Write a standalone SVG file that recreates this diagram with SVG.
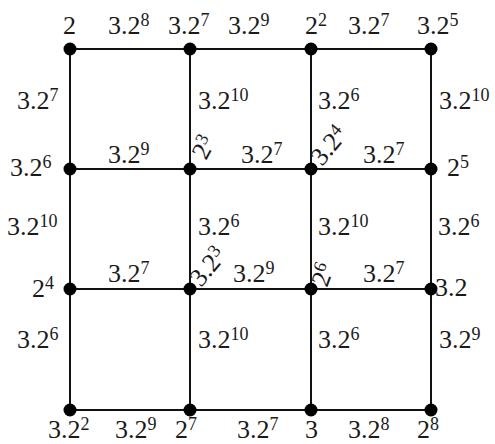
<svg xmlns="http://www.w3.org/2000/svg" width="495" height="444" viewBox="0 0 495 444">
<style>
text{font-family:"Liberation Serif","Times New Roman",serif;font-size:26px;fill:#1a1a1a}
.s{font-size:18px}
.e{stroke:#111;stroke-width:2;fill:none}
.n{fill:#000}
</style>
<rect width="495" height="444" fill="#fff"/>
<g id="connectors">
<path class="e" d="M70 49H431M70 169H431M70 289H431M70 410H431M70 49V410M190 49V410M311 49V410M431 49V410"/>
</g>
<g id="edge-labels">
<text x="108" y="34">3.2<tspan class="s" dy="-8">8</tspan></text>
<text x="228" y="34">3.2<tspan class="s" dy="-8">9</tspan></text>
<text x="348" y="34">3.2<tspan class="s" dy="-8">7</tspan></text>
<text x="17" y="109">3.2<tspan class="s" dy="-8">7</tspan></text>
<text x="198" y="109">3.2<tspan class="s" dy="-8">10</tspan></text>
<text x="318" y="109">3.2<tspan class="s" dy="-8">6</tspan></text>
<text x="439" y="109">3.2<tspan class="s" dy="-8">10</tspan></text>
<text x="108" y="163">3.2<tspan class="s" dy="-8">9</tspan></text>
<text x="241" y="163">3.2<tspan class="s" dy="-8">7</tspan></text>
<text x="363" y="163">3.2<tspan class="s" dy="-8">7</tspan></text>
<text x="7" y="235">3.2<tspan class="s" dy="-8">10</tspan></text>
<text x="198" y="235">3.2<tspan class="s" dy="-8">6</tspan></text>
<text x="318" y="235">3.2<tspan class="s" dy="-8">10</tspan></text>
<text x="438" y="235">3.2<tspan class="s" dy="-8">6</tspan></text>
<text x="108" y="282">3.2<tspan class="s" dy="-8">7</tspan></text>
<text x="233" y="282">3.2<tspan class="s" dy="-8">9</tspan></text>
<text x="363" y="282">3.2<tspan class="s" dy="-8">7</tspan></text>
<text x="17" y="348">3.2<tspan class="s" dy="-8">6</tspan></text>
<text x="198" y="348">3.2<tspan class="s" dy="-8">10</tspan></text>
<text x="318" y="348">3.2<tspan class="s" dy="-8">6</tspan></text>
<text x="439" y="348">3.2<tspan class="s" dy="-8">9</tspan></text>
<text x="115" y="438">3.2<tspan class="s" dy="-8">9</tspan></text>
<text x="237" y="438">3.2<tspan class="s" dy="-8">7</tspan></text>
<text x="348" y="438">3.2<tspan class="s" dy="-8">8</tspan></text>
</g>
<g id="n11"><circle class="n" cx="70" cy="49" r="6.5"/><text x="63" y="34">2</text></g>
<g id="n12"><circle class="n" cx="190" cy="49" r="6.5"/><text x="168" y="34">3.2<tspan class="s" dy="-8">7</tspan></text></g>
<g id="n13"><circle class="n" cx="311" cy="49" r="6.5"/><text x="305" y="34">2<tspan class="s" dy="-8">2</tspan></text></g>
<g id="n14"><circle class="n" cx="431" cy="49" r="6.5"/><text x="417" y="34">3.2<tspan class="s" dy="-8">5</tspan></text></g>
<g id="n21"><circle class="n" cx="70" cy="169" r="6.5"/><text x="10" y="176">3.2<tspan class="s" dy="-8">6</tspan></text></g>
<g id="n22"><circle class="n" cx="190" cy="169" r="6.5"/><text transform="translate(206,161) rotate(-62)">2<tspan class="s" dy="-8">3</tspan></text></g>
<g id="n23"><circle class="n" cx="311" cy="169" r="6.5"/><text transform="translate(322,167) rotate(-50)">3.2<tspan class="s" dy="-8">4</tspan></text></g>
<g id="n24"><circle class="n" cx="431" cy="169" r="6.5"/><text x="447" y="176">2<tspan class="s" dy="-8">5</tspan></text></g>
<g id="n31"><circle class="n" cx="70" cy="289" r="6.5"/><text x="32" y="297">2<tspan class="s" dy="-8">4</tspan></text></g>
<g id="n32"><circle class="n" cx="190" cy="289" r="6.5"/><text transform="translate(201,288) rotate(-50)">3.2<tspan class="s" dy="-8">3</tspan></text></g>
<g id="n33"><circle class="n" cx="311" cy="289" r="6.5"/><text transform="translate(327,288) rotate(-70)">2<tspan class="s" dy="-8">6</tspan></text></g>
<g id="n34"><circle class="n" cx="431" cy="289" r="6.5"/><text x="435" y="296">3.2</text></g>
<g id="n41"><circle class="n" cx="70" cy="410" r="6.5"/><text x="48" y="438">3.2<tspan class="s" dy="-8">2</tspan></text></g>
<g id="n42"><circle class="n" cx="190" cy="410" r="6.5"/><text x="175" y="438">2<tspan class="s" dy="-8">7</tspan></text></g>
<g id="n43"><circle class="n" cx="311" cy="410" r="6.5"/><text x="305" y="438">3</text></g>
<g id="n44"><circle class="n" cx="431" cy="410" r="6.5"/><text x="417" y="438">2<tspan class="s" dy="-8">8</tspan></text></g>
</svg>
